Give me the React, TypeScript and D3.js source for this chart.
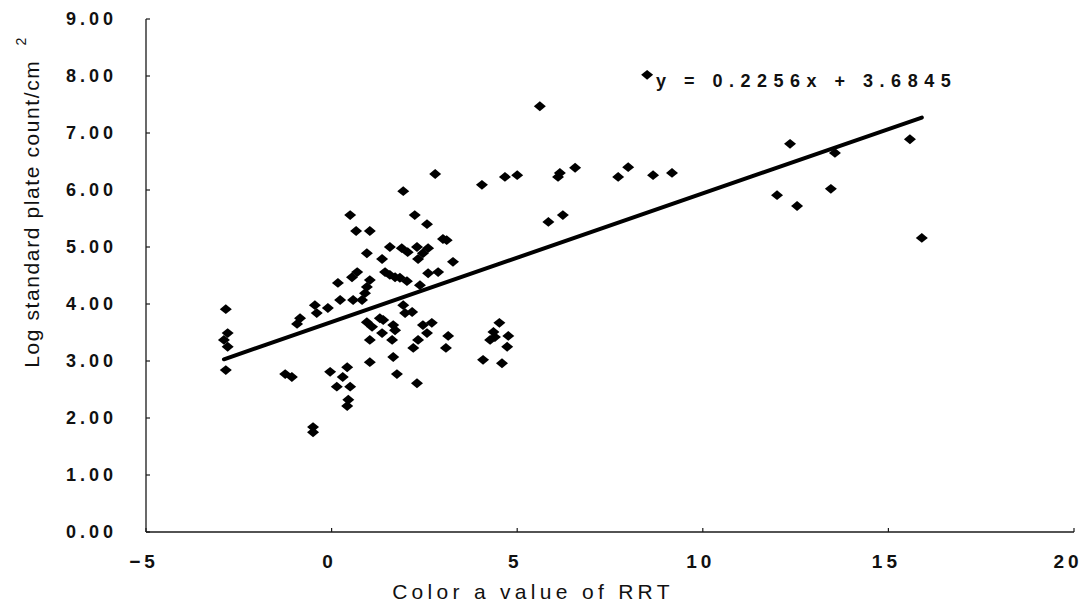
import React from "react";
import * as d3 from "d3";

const xValues: number[] = [
  -2.85, -2.8, -2.9, -2.8, -2.85,
  -1.25, -1.07, -0.04,
  0.42, 0.3, 0.14, 0.5, 0.45, 0.42, 1.03,
  -0.5, -0.5,
  -0.85, -0.93, -0.45, -0.4, -0.1,
  0.23, 0.58, 0.82, 0.17, 0.95, 1.03,
  0.95, 1.09, 1.03,
  2.79, 1.93, 4.05, 0.5, 2.24, 2.57, 0.66, 1.03, 3.0, 3.1,
  1.57, 1.89, 2.05, 2.3, 2.6, 2.46, 2.33, 0.95, 1.36, 3.27,
  0.69, 0.55, 1.44, 1.57, 1.71, 1.84, 2.03, 0.9, 2.38, 2.6, 2.87,
  1.93, 2.17, 1.98, 1.3,
  1.39, 1.66, 1.71, 1.36, 1.63, 2.46, 2.7, 2.57, 2.33, 2.2, 3.14, 3.08,
  1.66, 1.76, 2.3,
  4.52, 4.36, 4.4, 4.27, 4.76, 4.73, 4.08, 4.59,
  8.5, 5.61, 4.67, 5.0, 6.1, 6.15, 6.56, 7.72, 7.99, 8.66, 9.17,
  5.84, 6.23, 12.35, 13.56, 15.58, 12.0, 12.54, 13.45, 15.9,
];

const yValues: number[] = [
  3.91, 3.49, 3.37, 3.25, 2.84,
  2.77, 2.72, 2.81,
  2.89, 2.72, 2.55, 2.55, 2.32, 2.21, 2.98,
  1.84, 1.75,
  3.75, 3.65, 3.98, 3.84, 3.93,
  4.07, 4.07, 4.07, 4.37, 4.3, 4.42,
  3.68, 3.6, 3.37,
  6.28, 5.98, 6.09, 5.56, 5.56, 5.4, 5.28, 5.28, 5.14, 5.12,
  5.0, 4.98, 4.91, 5.0, 4.98, 4.89, 4.79, 4.89, 4.79, 4.74,
  4.56, 4.47, 4.56, 4.51, 4.47, 4.46, 4.4, 4.19, 4.33, 4.54, 4.56,
  3.98, 3.86, 3.84, 3.75,
  3.72, 3.63, 3.54, 3.49, 3.37, 3.63, 3.67, 3.49, 3.37, 3.23, 3.44, 3.23,
  3.07, 2.77, 2.61,
  3.67, 3.51, 3.42, 3.37, 3.44, 3.25, 3.02, 2.96,
  8.02, 7.47, 6.23, 6.26, 6.23, 6.3, 6.39, 6.23, 6.4, 6.26, 6.3,
  5.44, 5.56, 6.81, 6.65, 6.89, 5.91, 5.72, 6.02, 5.16,
];

const slope = 0.2256;
const intercept = 3.6845;
const equationText = "y = 0.2256x + 3.6845";
const xTicks: number[] = [-5, 0, 5, 10, 15, 20];
const yTicks: number[] = [0, 1, 2, 3, 4, 5, 6, 7, 8, 9];
const xTitle = "Color a value of RRT";
const yTitle = "Log standard plate count/cm";

const W = 1090;
const H = 607;

const diamond = {
  draw(ctx: any, size: number) {
    const w = Math.sqrt(size) * 0.6;
    const h = w * 0.82;
    ctx.moveTo(0, -h);
    ctx.lineTo(w, 0);
    ctx.lineTo(0, h);
    ctx.lineTo(-w, 0);
    ctx.closePath();
  },
};

export default function App() {
  const x = d3.scaleLinear().domain([-5, 20]).range([146, 1074]);
  const y = d3.scaleLinear().domain([0, 9]).range([532, 19]);
  const pts = xValues.map((v, i) => ({ x: v, y: yValues[i] }));
  const xmin = d3.min(xValues) as number;
  const xmax = d3.max(xValues) as number;
  const line = d3
    .line<number>()
    .x((d) => x(d))
    .y((d) => y(slope * d + intercept));
  const sym = d3.symbol().type(diamond as any).size(100)() as string;
  const axisColor = "#1a1a1a";
  const tickFont = "Arial, 'Liberation Sans', sans-serif";

  return (
    <svg
      width={W}
      height={H}
      style={{ position: "absolute", left: 0, top: 0, background: "#fff" }}
    >
      <rect width={W} height={H} fill="#fff" />
      {/* axes */}
      <line x1={x(-5)} x2={x(-5)} y1={y(9)} y2={y(0)} stroke={axisColor} strokeWidth={1.3} />
      <line x1={x(-5)} x2={x(20)} y1={y(0)} y2={y(0)} stroke={axisColor} strokeWidth={1.3} />
      {yTicks.map((t) => (
        <g key={"yt" + t}>
          <line x1={x(-5)} x2={x(-5) + 4} y1={y(t)} y2={y(t)} stroke={axisColor} strokeWidth={1.2} />
          <text
            x={66}
            y={y(t)}
            dy="0.36em"
            textAnchor="start"
            fontFamily={tickFont}
            fontWeight="bold"
            fontSize={18}
            letterSpacing={4}
            fill="#111"
          >
            {t.toFixed(2)}
          </text>
        </g>
      ))}
      {xTicks.map((t) => (
        <g key={"xt" + t}>
          <line x1={x(t)} x2={x(t)} y1={y(0)} y2={y(0) - 4} stroke={axisColor} strokeWidth={1.2} />
          <text
            x={x(t) - (t === 20 ? 4 : 0) - 2}
            y={561}
            dy="0.36em"
            textAnchor="middle"
            fontFamily={tickFont}
            fontWeight="bold"
            fontSize={19}
            letterSpacing={4}
            fill="#111"
          >
            {t < 0 ? "\u2212" + Math.abs(t) : String(t)}
          </text>
        </g>
      ))}
      {/* axis titles */}
      <text
        x={533}
        y={591}
        dy="0.36em"
        textAnchor="middle"
        fontFamily={tickFont}
        fontSize={21}
        letterSpacing={4.3}
        fill="#111"
      >
        {xTitle}
      </text>
      <text
        transform={`translate(31,${202}) rotate(-90)`}
        textAnchor="middle"
        dy="0.36em"
        fontFamily={tickFont}
        fontSize={21}
        letterSpacing={1.6}
        fill="#111"
      >
        {yTitle}
        <tspan dy="-0.9em" dx="14" fontSize={14}>2</tspan>
      </text>
      {/* trendline */}
      <path d={line([xmin, xmax]) as string} fill="none" stroke="#000" strokeWidth={4} strokeLinecap="round" />
      {/* points */}
      {pts.map((p, i) => (
        <path key={i} d={sym} transform={`translate(${x(p.x)},${y(p.y)})`} fill="#000" />
      ))}
      {/* equation */}
      <text
        x={656}
        y={81}
        dy="0.36em"
        fontFamily={tickFont}
        fontWeight="bold"
        fontSize={18}
        letterSpacing={6.5}
        fill="#111"
      >
        {equationText}
      </text>
    </svg>
  );
}
